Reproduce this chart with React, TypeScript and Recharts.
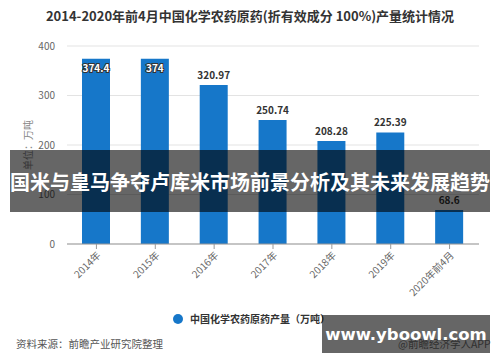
import { BarChart, Bar, XAxis, YAxis, CartesianGrid, LabelList, Legend, Label } from 'recharts'

const years = ['2014年', '2015年', '2016年', '2017年', '2018年', '2019年', '2020年前4月']
const output = [374.4, 374, 320.97, 250.74, 208.28, 225.39, 68.6]
const yTicks = [0, 100, 200, 300, 400]

const data = years.map((year, i) => ({ year, value: output[i] }))

const FONT = '"Noto Sans CJK SC", "Noto Sans", sans-serif'
const BLUE = '#1677c9'

const XTick = ({ x, y, payload }: any) => (
  <g transform={`translate(${x},${y})`}>
    <text x={0} y={0} dy={7} textAnchor="end" transform="rotate(-45)" fontSize={10} fill="#666" fontFamily={FONT}>
      {payload.value}
    </text>
  </g>
)

const BarValue = (props: any) => {
  const { x, y, width, value } = props
  const inside = value > 350
  const cx = x + width / 2
  if (inside) {
    return (
      <text x={cx} y={y + 13} textAnchor="middle" fontSize={10} fontWeight="bold" fontFamily={FONT}
        fill="#fff" stroke="#333" strokeWidth={2} paintOrder="stroke">
        {value}
      </text>
    )
  }
  return (
    <text x={cx} y={y - 6} textAnchor="middle" fontSize={10} fontWeight="bold" fontFamily={FONT} fill="#333">
      {value}
    </text>
  )
}

const LegendBox = () => (
  <div style={{ display: 'flex', alignItems: 'center', fontFamily: FONT, fontSize: 10, fontWeight: 'bold', color: '#333' }}>
    <span style={{ width: 10, height: 10, borderRadius: 5, background: BLUE, marginRight: 7, display: 'inline-block' }} />
    中国化学农药原药产量（万吨）
  </div>
)

export default function App() {
  return (
    <div style={{ position: 'absolute', left: 0, top: 0, width: 500, height: 362, background: '#fff', overflow: 'hidden', fontFamily: FONT }}>
      <div style={{ position: 'absolute', top: 6, left: 0, width: 500, textAlign: 'center', fontSize: 13, fontWeight: 'bold', color: '#333' }}>
        2014-2020年前4月中国化学农药原药(折有效成分 100%)产量统计情况
      </div>
      <BarChart width={500} height={362} data={data} margin={{ top: 46, right: 21, bottom: 0, left: 0 }}>
        <CartesianGrid vertical={false} stroke="#e3e3e3" />
        <XAxis dataKey="year" tick={<XTick />} tickLine={{ stroke: '#999' }} tickSize={5} axisLine={{ stroke: '#999' }}
          interval={0} height={96} />
        <YAxis domain={[0, 400]} ticks={yTicks} width={67} tickLine={false} axisLine={false} tickMargin={6}
          tick={{ fontSize: 10, fill: '#666', fontFamily: FONT }}>
          <Label value="单位：万吨" angle={-90} position="insideLeft" offset={28} style={{ fontSize: 10, fill: '#888', fontFamily: FONT, textAnchor: 'middle' }} />
        </YAxis>
        <Legend verticalAlign="bottom" height={22} content={<LegendBox />}
          wrapperStyle={{ left: 173, top: 311, width: 'auto' }} />
        <Bar dataKey="value" fill={BLUE} barSize={28} isAnimationActive={false}>
          <LabelList dataKey="value" content={<BarValue />} />
        </Bar>
      </BarChart>
      <div style={{ position: 'absolute', left: 16, top: 336, fontSize: 10.5, color: '#555' }}>
        资料来源：前瞻产业研究院整理
      </div>
      <div style={{ position: 'absolute', left: 398, top: 336, fontSize: 10.5, color: '#777' }}>
        @前瞻经济学人APP
      </div>
      <div style={{ position: 'absolute', left: 10, top: 150, width: 480, height: 62, background: 'rgba(0,0,0,0.6)',
        display: 'flex', alignItems: 'center', justifyContent: 'center', color: '#fff', fontSize: 20, fontWeight: 'bold', whiteSpace: 'nowrap' }}>
        国米与皇马争夺卢库米市场前景分析及其未来发展趋势
      </div>
      <div style={{ position: 'absolute', left: 322, top: 315, width: 168, height: 38, background: 'rgba(0,0,0,0.6)',
        display: 'flex', alignItems: 'center', justifyContent: 'center', color: '#fff', fontSize: 16.5, fontWeight: 'bold',
        fontFamily: '"DejaVu Sans", sans-serif', whiteSpace: 'nowrap' }}>
        www.yboowl.com
      </div>
    </div>
  )
}
